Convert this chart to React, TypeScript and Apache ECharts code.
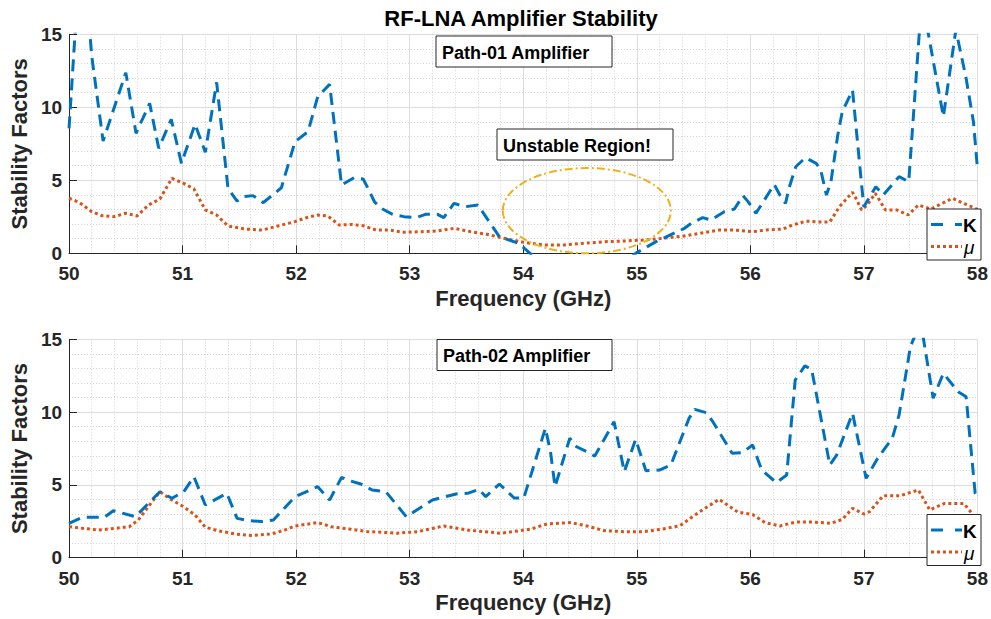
import React, { useEffect, useRef } from "react";
import * as echarts from "echarts";

// ---------------- data ----------------
const chartTitle = "RF-LNA Amplifier Stability";
const xAxisName = "Frequency (GHz)";
const yAxisName = "Stability Factors";
const panelLabels = ["Path-01 Amplifier", "Path-02 Amplifier"];
const annotationText = "Unstable Region!";
const seriesNames = ["K", "\u03bc"];

// Path-01, K
const p1KFreq = [
  50.0, 50.11, 50.2, 50.3, 50.5, 50.59, 50.71, 50.79, 50.9, 50.99, 51.11, 51.2, 51.3, 51.4, 51.48,
  51.535, 51.62, 51.71, 51.87, 51.99, 52.105, 52.19, 52.295, 52.4, 52.51, 52.59, 52.63, 52.69,
  52.75, 52.85, 52.95, 53.055, 53.14, 53.245, 53.3, 53.39, 53.49, 53.6, 53.79, 53.96, 54.06, 54.3,
  54.7, 54.99, 55.17, 55.42, 55.48, 55.58, 55.655, 55.77, 55.86, 55.935, 55.98, 56.05, 56.21, 56.26,
  56.31, 56.34, 56.4, 56.485, 56.58, 56.62, 56.67, 56.71, 56.77, 56.81, 56.9, 56.98, 57.0, 57.105,
  57.17, 57.31, 57.395, 57.51, 57.7, 57.81, 57.9, 57.965, 58.0,
];
const p1K = [
  8.56, 22, 13.5, 7.69, 12.37, 8.22, 10.27, 7.19, 9.18, 6.16, 8.84, 6.92, 11.71, 4.45, 3.58,
  3.88, 3.95, 3.47, 4.49, 7.64, 8.33, 10.73, 11.57, 4.68, 5.18, 5.09, 4.49, 3.53,
  3.08, 2.67, 2.51, 2.44, 2.67, 2.67, 2.44, 3.42, 3.19, 3.31, 1.14, 0.68, 0.0, -2.0,
  -2.0, 0.0, 0.8, 1.71, 2.05, 2.44, 2.28, 2.85, 3.03, 3.95, 3.54, 2.74, 4.72, 3.99,
  3.42, 4.45, 5.93, 6.55, 6.16, 5.71, 3.99, 4.9, 8.1, 9.7, 11.18, 4.68, 3.19, 4.56,
  3.99, 5.25, 4.9, 17.5, 9.36, 15.3, 12.0, 9.0, 5.82,
];

// Path-01, mu
const p1MuFreq = [
  50.0, 50.09, 50.2, 50.29, 50.395, 50.5, 50.6, 50.7, 50.8, 50.906, 51.01, 51.1, 51.2, 51.3, 51.4,
  51.55, 51.7, 51.84, 51.99, 52.09, 52.19, 52.28, 52.38, 52.485, 52.59, 52.705, 52.81, 52.95, 53.1,
  53.245, 53.39, 53.54, 53.68, 53.83, 54.005, 54.18, 54.36, 54.53, 54.71, 54.88, 55.06, 55.23, 55.4,
  55.555, 55.73, 55.85, 56.02, 56.14, 56.285, 56.37, 56.49, 56.61, 56.7, 56.785, 56.9, 56.93, 56.98,
  57.03, 57.1, 57.19, 57.29, 57.39, 57.48, 57.59, 57.78, 57.88, 57.98, 58.0,
];
const p1Mu = [
  3.77, 3.49, 2.85, 2.58, 2.51, 2.74, 2.56, 3.31, 3.72, 5.14, 4.79, 4.41, 2.97, 2.62, 1.87,
  1.66, 1.59, 1.87, 2.17, 2.44, 2.62, 2.55, 1.93, 1.98, 1.89, 1.59, 1.6, 1.44, 1.48,
  1.53, 1.71, 1.48, 1.3, 1.03, 0.75, 0.57, 0.57, 0.68, 0.79, 0.84, 0.91, 1.03, 1.17,
  1.37, 1.6, 1.6, 1.48, 1.6, 1.66, 1.93, 2.2, 2.15, 2.15, 3.19, 4.18, 3.77, 2.97,
  3.31, 4.11, 2.97, 2.97, 2.63, 3.31, 3.03, 3.77, 3.42, 3.08, 3.0,
];

// Path-02, K
const p2KFreq = [
  50.0, 50.117, 50.31, 50.39, 50.585, 50.8, 50.906, 51.01, 51.1, 51.2, 51.39, 51.48, 51.58, 51.7,
  51.8, 51.99, 52.19, 52.295, 52.4, 52.45, 52.57, 52.67, 52.79, 52.97, 53.2, 53.41, 53.51, 53.61,
  53.67, 53.79, 53.92, 54.005, 54.195, 54.24, 54.28, 54.41, 54.47, 54.56, 54.63, 54.8, 54.89, 54.99,
  55.08, 55.2, 55.3, 55.46, 55.51, 55.61, 55.67, 55.84, 55.93, 56.02, 56.1, 56.23, 56.32, 56.395,
  56.48, 56.54, 56.7, 56.76, 56.9, 57.02, 57.12, 57.25, 57.31, 57.41, 57.5, 57.61, 57.7, 57.83,
  57.9, 57.98, 58.0,
];
const p2K = [
  2.36, 2.77, 2.77, 3.23, 2.82, 4.53, 4.08, 4.53, 5.56, 3.62, 4.42, 2.7, 2.55, 2.48,
  2.59, 4.19, 4.88, 3.96, 5.52, 5.34, 5.06, 4.65, 4.53, 2.82, 3.96, 4.38, 4.42, 4.7,
  4.19, 5.06, 4.1, 4.1, 8.89, 7.28, 4.88, 8.2, 7.62, 7.28, 6.98, 9.34, 5.91, 8.13,
  5.98, 6.02, 6.36, 9.57, 10.19, 9.96, 9.34, 7.17, 7.22, 7.74, 6.02, 5.15, 5.68, 12.2,
  13.17, 12.94, 6.37, 7.05, 9.92, 5.45, 6.82, 8.2, 9.8, 14.5, 16.2, 10.95, 12.66, 11.4,
  11.06, 4.42, 4.2,
];

// Path-02, mu
const p2MuFreq = [
  50.0, 50.117, 50.26, 50.41, 50.53, 50.61, 50.72, 50.8, 50.906, 51.01, 51.11, 51.2, 51.31, 51.46,
  51.61, 51.785, 51.9, 51.99, 52.19, 52.31, 52.485, 52.63, 52.75, 52.89, 53.07, 53.3, 53.51, 53.8,
  54.06, 54.21, 54.42, 54.56, 54.71, 54.88, 55.06, 55.23, 55.38, 55.555, 55.725, 55.89, 56.02, 56.13,
  56.26, 56.4, 56.55, 56.71, 56.81, 56.9, 57.0, 57.05, 57.17, 57.32, 57.48, 57.58, 57.71, 57.88,
  57.94, 58.0,
];
const p2Mu = [
  2.13, 2.02, 1.9, 2.02, 2.13, 2.59, 3.73, 4.53, 3.96, 3.5, 2.93, 2.09, 1.86, 1.63,
  1.52, 1.63, 1.9, 2.18, 2.41, 2.13, 1.95, 1.79, 1.75, 1.68, 1.79, 2.18, 1.9, 1.68,
  1.95, 2.32, 2.41, 2.18, 1.86, 1.79, 1.79, 1.97, 2.2, 3.16, 4.01, 3.13, 2.97, 2.41,
  2.18, 2.45, 2.45, 2.36, 2.63, 3.39, 3.0, 3.16, 4.26, 4.26, 4.65, 3.28, 3.73, 3.73,
  3.16, 2.6,
];

// Unstable-region ellipse in data units (top panel): centre and semi-axes
const ellipseCenter = [54.56, 2.92];
const ellipseSemiAxes = [0.74, 2.92];

// ticks
const xMin = 50;
const xMax = 58;
const xStep = 1;
const yMin = 0;
const yMax = 15;
const yStep = 5;

// ---------------- styling ----------------
const FONT = "'Liberation Sans', Arial, Helvetica, sans-serif";
const TXT = "#262626";
const K_COLOR = "#0072BD";
const MU_COLOR = "#D95319";
const ELL_COLOR = "#EDB120";
const K_DASH = [12, 7];
const MU_DASH = [3, 3];

const zip = (xs: number[], ys: number[]) => xs.map((x, i) => [x, ys[i]]);

function makeXAxis(gridIndex: number) {
  return {
    type: "value",
    gridIndex,
    min: xMin,
    max: xMax,
    interval: xStep,
    name: xAxisName,
    nameLocation: "middle",
    nameGap: 34,
    nameTextStyle: { fontFamily: FONT, fontSize: 22, fontWeight: "bold", color: TXT },
    axisLine: { show: true, onZero: false, lineStyle: { color: TXT, width: 1 } },
    axisTick: { show: true, inside: true, length: 8, lineStyle: { color: TXT } },
    axisLabel: { fontFamily: FONT, fontSize: 19, fontWeight: "bold", color: TXT, margin: 11 },
    splitLine: { show: true, lineStyle: { color: "#dcdcdc", width: 1 } },
    minorTick: { show: false, splitNumber: 5 },
    minorSplitLine: { show: true, lineStyle: { color: "#d4d4d4", width: 1, type: [1, 2] } },
  };
}

function makeYAxis(gridIndex: number) {
  return {
    type: "value",
    gridIndex,
    min: yMin,
    max: yMax,
    interval: yStep,
    name: yAxisName,
    nameLocation: "middle",
    nameGap: 35,
    nameTextStyle: { fontFamily: FONT, fontSize: 22, fontWeight: "bold", color: TXT },
    axisLine: { show: true, lineStyle: { color: TXT, width: 1 } },
    axisTick: { show: true, inside: true, length: 8, lineStyle: { color: TXT } },
    axisLabel: { fontFamily: FONT, fontSize: 19, fontWeight: "bold", color: TXT, margin: 7 },
    splitLine: { show: true, lineStyle: { color: "#dcdcdc", width: 1 } },
    minorTick: { show: false, splitNumber: 5 },
    minorSplitLine: { show: true, lineStyle: { color: "#d4d4d4", width: 1, type: [1, 2] } },
  };
}

function kSeries(idx: number, data: number[][]) {
  return {
    name: seriesNames[0],
    type: "line",
    xAxisIndex: idx,
    yAxisIndex: idx,
    data,
    symbol: "none",
    clip: true,
    z: 3,
    lineStyle: { color: K_COLOR, width: 3, type: K_DASH, cap: "butt" },
  };
}

function muSeries(idx: number, data: number[][]) {
  return {
    name: seriesNames[1],
    type: "line",
    xAxisIndex: idx,
    yAxisIndex: idx,
    data,
    symbol: "none",
    clip: true,
    z: 2,
    lineStyle: { color: MU_COLOR, width: 3, type: MU_DASH, cap: "butt" },
  };
}

function labelBox(x: number, y: number, w: number, h: number, text: string) {
  return {
    type: "group",
    z: 100,
    children: [
      {
        type: "rect",
        z: 100,
        shape: { x, y, width: w, height: h },
        style: { fill: "#ffffff", stroke: TXT, lineWidth: 1 },
      },
      {
        type: "text",
        z: 101,
        x: x + 6,
        y: y + h / 2 + 1,
        style: {
          text,
          fill: "#000000",
          font: `bold 18px ${FONT}`,
          verticalAlign: "middle",
          align: "left",
        },
      },
    ],
  };
}

function legendBox(x: number, y: number) {
  const w = 54;
  const h = 51;
  const rowK = y + 15.5;
  const rowMu = y + 37.5;
  return {
    type: "group",
    z: 100,
    children: [
      {
        type: "rect",
        z: 100,
        shape: { x, y, width: w, height: h },
        style: { fill: "#ffffff", stroke: TXT, lineWidth: 1 },
      },
      {
        type: "line",
        z: 101,
        shape: { x1: x + 4, y1: rowK, x2: x + 35, y2: rowK },
        style: { stroke: K_COLOR, lineWidth: 3, lineDash: [12, 12] },
      },
      {
        type: "text",
        z: 101,
        x: x + 36,
        y: rowK + 1,
        style: { text: seriesNames[0], fill: "#000000", font: `bold 19px ${FONT}`, verticalAlign: "middle" },
      },
      {
        type: "line",
        z: 101,
        shape: { x1: x + 4, y1: rowMu, x2: x + 35, y2: rowMu },
        style: { stroke: MU_COLOR, lineWidth: 3, lineDash: [3, 3] },
      },
      {
        type: "text",
        z: 101,
        x: x + 37,
        y: rowMu + 1,
        style: { text: seriesNames[1], fill: "#000000", font: `italic 19px ${FONT}`, verticalAlign: "middle" },
      },
    ],
  };
}

export default function App() {
  const ref = useRef<HTMLDivElement | null>(null);

  useEffect(() => {
    if (!ref.current) return;
    const chart = echarts.init(ref.current, null, { renderer: "svg" });
    const option: any = {
      animation: false,
      backgroundColor: "#ffffff",
      textStyle: { fontFamily: FONT },
      grid: [
        { left: 66.7, top: 34.3, width: 912.3, height: 219 },
        { left: 66.7, top: 339.3, width: 912.3, height: 218.4 },
      ],
      xAxis: [makeXAxis(0), makeXAxis(1)],
      yAxis: [makeYAxis(0), makeYAxis(1)],
      series: [
        muSeries(0, zip(p1MuFreq, p1Mu)),
        kSeries(0, zip(p1KFreq, p1K)),
        muSeries(1, zip(p2MuFreq, p2Mu)),
        kSeries(1, zip(p2KFreq, p2K)),
      ],
    };
    chart.setOption(option);

    const c = chart.convertToPixel({ gridIndex: 0 } as any, ellipseCenter) as number[];
    const e = chart.convertToPixel({ gridIndex: 0 } as any, [
      ellipseCenter[0] + ellipseSemiAxes[0],
      ellipseCenter[1] + ellipseSemiAxes[1],
    ]) as number[];

    chart.setOption({
      graphic: [
        {
          type: "text",
          z: 100,
          x: 521,
          y: 18,
          style: {
            text: chartTitle,
            fill: "#000000",
            font: `bold 22px ${FONT}`,
            align: "center",
            verticalAlign: "middle",
          },
        },
        labelBox(436, 36, 176, 31, panelLabels[0]),
        labelBox(497, 129, 176, 31, annotationText),
        labelBox(437, 339.5, 175, 31, panelLabels[1]),
        {
          type: "ellipse",
          z: 50,
          shape: { cx: c[0], cy: c[1], rx: Math.abs(e[0] - c[0]), ry: Math.abs(e[1] - c[1]) },
          style: { fill: "none", stroke: ELL_COLOR, lineWidth: 2, lineDash: [8, 3, 2, 3] },
        },
        legendBox(927, 209),
        legendBox(927, 514.5),
      ],
    });

    return () => chart.dispose();
  }, []);

  return (
    <div
      ref={ref}
      style={{ position: "fixed", left: 0, top: 0, width: 991, height: 619, background: "#fff" }}
    />
  );
}
